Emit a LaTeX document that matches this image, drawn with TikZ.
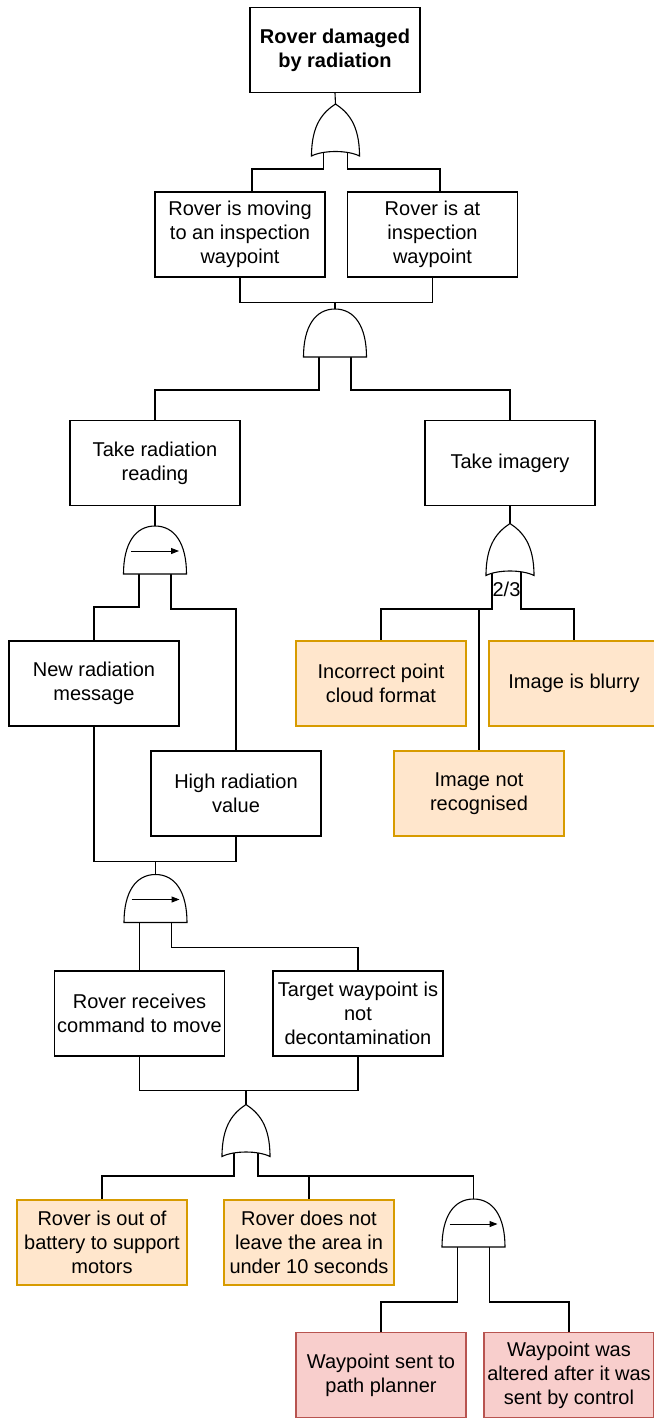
\documentclass[tikz,border=0pt]{standalone}
\usepackage{fontspec}
\setmainfont{Liberation Sans}
\usetikzlibrary{arrows.meta,calc}
\definecolor{orfill}{HTML}{FFE6CC}
\definecolor{ordraw}{HTML}{D79B00}
\definecolor{rdfill}{HTML}{F8CECC}
\definecolor{rddraw}{HTML}{B85450}
\begin{document}
\begin{tikzpicture}[x=1pt,y=-1pt,
  box/.style={draw=black, line width=1.1pt, fill=white, minimum width=170pt, minimum height=85pt, inner sep=0pt, align=center, font=\fontsize{20}{24}\selectfont},
  obox/.style={box, draw=ordraw, fill=orfill},
  rbox/.style={box, draw=rddraw, fill=rdfill},
  wire/.style={line width=1.1pt, draw=black},
  gate/.style={line width=1.1pt, draw=black, fill=white},
  andgate/.pic={
    \path[gate] (-31.5,24) .. controls (-31.5,-6) and (-20,-24) .. (0,-24) .. controls (20,-24) and (31.5,-6) .. (31.5,24) -- cycle;
    \coordinate (-top) at (0,-24); \coordinate (-l) at (-16,24); \coordinate (-r) at (16,24);},
  pandgate/.pic={
    \path[gate] (-31.5,24) .. controls (-31.5,-6) and (-20,-24) .. (0,-24) .. controls (20,-24) and (31.5,-6) .. (31.5,24) -- cycle;
    \draw[line width=1pt, -{Triangle[length=8pt,width=6pt]}] (-24,1) -- (24,1);
    \coordinate (-top) at (0,-24); \coordinate (-l) at (-16,24); \coordinate (-r) at (16,24);},
  orgate/.pic={
    \path[gate] (0,-26) .. controls (12,-18) and (24,-6) .. (24,26) .. controls (12,20) and (-12,20) .. (-24,26) .. controls (-24,-6) and (-12,-18) .. (0,-26) -- cycle;
    \coordinate (-top) at (0,-26); \coordinate (-l) at (-12,21.5); \coordinate (-r) at (12,21.5);}
]
\fill[white] (0,0) rectangle (653,1418);
\useasboundingbox (0,0) rectangle (653,1418);

% boxes
\node[box, font=\fontsize{20}{24}\selectfont\bfseries] (top) at (335,50) {Rover damaged\\by radiation};
\node[box] (b1) at (240,234.5) {Rover is moving\\to an inspection\\waypoint};
\node[box] (b2) at (432.5,234.5) {Rover is at\\inspection\\waypoint};
\node[box] (b3) at (155,463) {Take radiation\\reading};
\node[box] (b4) at (510,463) {Take imagery};
\node[box] (b5) at (94,683.5) {New radiation\\message};
\node[box] (b6) at (236,793.5) {High radiation\\value};
\node[obox] (o1) at (381,683.5) {Incorrect point\\cloud format};
\node[obox] (o2) at (574,683.5) {Image is blurry};
\node[obox] (o3) at (479,793.5) {Image not\\recognised};
\node[box] (b7) at (139.5,1013.5) {Rover receives\\command to move};
\node[box] (b8) at (358,1013.5) {Target waypoint is\\not\\decontamination};
\node[obox] (o4) at (102,1242.5) {Rover is out of\\battery to support\\motors};
\node[obox] (o5) at (309,1242.5) {Rover does not\\leave the area in\\under 10 seconds};
\node[rbox] (r1) at (381,1375) {Waypoint sent to\\path planner};
\node[rbox] (r2) at (569,1375) {Waypoint was\\altered after it was\\sent by control};

% gate anchors (coordinates only, shapes drawn later)
\path (335.5,130) coordinate (or1c) (335,333) coordinate (and1c) (155,550) coordinate (pand1c)
      (510,549.5) coordinate (or2c) (155.5,898.5) coordinate (pand2c) (246,1130.5) coordinate (or3c)
      (473.5,1223) coordinate (pand3c);
\path (or1c) ++(0,-26) coordinate (or1-top) (or1c) ++(-12,21.5) coordinate (or1-l) (or1c) ++(12,21.5) coordinate (or1-r);
\path (and1c) ++(0,-24) coordinate (and1-top) (and1c) ++(-16,24) coordinate (and1-l) (and1c) ++(16,24) coordinate (and1-r);
\path (pand1c) ++(0,-24) coordinate (pand1-top) (pand1c) ++(-16,24) coordinate (pand1-l) (pand1c) ++(16,24) coordinate (pand1-r);
\path (or2c) ++(0,-26) coordinate (or2-top) (or2c) ++(-18,21.5) coordinate (or2-l) (or2c) ++(11,21.5) coordinate (or2-r);
\path (pand2c) ++(0,-24) coordinate (pand2-top) (pand2c) ++(-16,24) coordinate (pand2-l) (pand2c) ++(16,24) coordinate (pand2-r);
\path (or3c) ++(0,-26) coordinate (or3-top) (or3c) ++(-12,21.5) coordinate (or3-l) (or3c) ++(12,21.5) coordinate (or3-r);
\path (pand3c) ++(0,-24) coordinate (pand3-top) (pand3c) ++(-16,24) coordinate (pand3-l) (pand3c) ++(16,24) coordinate (pand3-r);

% wires
\draw[wire] (top.south) -- (or1-top);
\draw[wire] (or1-l) -- ++(0,17.5) -| ([xshift=12pt]b1.north);
\draw[wire] (or1-r) -- ++(0,17.5) -| ([xshift=7.5pt]b2.north);
\draw[wire] (b1.south) -- ++(0,25) -| (and1-top);
\draw[wire] (b2.south) -- ++(0,25) -| (and1-top);
\draw[wire] (and1-l) -- ++(0,33) -| (b3.north);
\draw[wire] (and1-r) -- ++(0,33) -| (b4.north);
\draw[wire] (b3.south) -- (pand1-top);
\draw[wire] (pand1-l) -- ++(0,33) -| (b5.north);
\draw[wire] (pand1-r) -- ++(0,35) -| (b6.north);
\draw[wire] (b4.south) -- (or2-top);
\draw[wire] (or2-l) -- ++(0,38) -| (o1.north);
\draw[wire] (or2-l) -- ++(0,38) -| (o3.north);
\draw[wire] (or2-r) -- ++(0,38) -| (o2.north);
\draw[wire] (b5.south) -- ++(0,135) -| (pand2-top);
\draw[wire] (b6.south) -- ++(0,25) -| (pand2-top);
\draw[wire] (pand2-l) -- (b7.north);
\draw[wire] (pand2-r) -- ++(0,25) -| (b8.north);
\draw[wire] (b7.south) -- ++(0,34) -| (or3-top);
\draw[wire] (b8.south) -- ++(0,34) -| (or3-top);
\draw[wire] (or3-l) -- ++(0,24) -| (o4.north);
\draw[wire] (or3-r) -- ++(0,24) -| (o5.north);
\draw[wire] (or3-r) -- ++(0,24) -| (pand3-top);
\draw[wire] (pand3-l) -- ++(0,55) -| (r1.north);
\draw[wire] (pand3-r) -- ++(0,55) -| (r2.north);

% gates
\pic at (or1c) {orgate};
\pic at (and1c) {andgate};
\pic at (pand1c) {pandgate};
\pic at (or2c) {orgate};
\pic at (pand2c) {pandgate};
\pic at (or3c) {orgate};
\pic at (pand3c) {pandgate};
\node[font=\fontsize{20}{24}\selectfont, inner sep=0pt, fill=white] (lbl) at (506.5,589) {2/3};
\end{tikzpicture}
\end{document}
